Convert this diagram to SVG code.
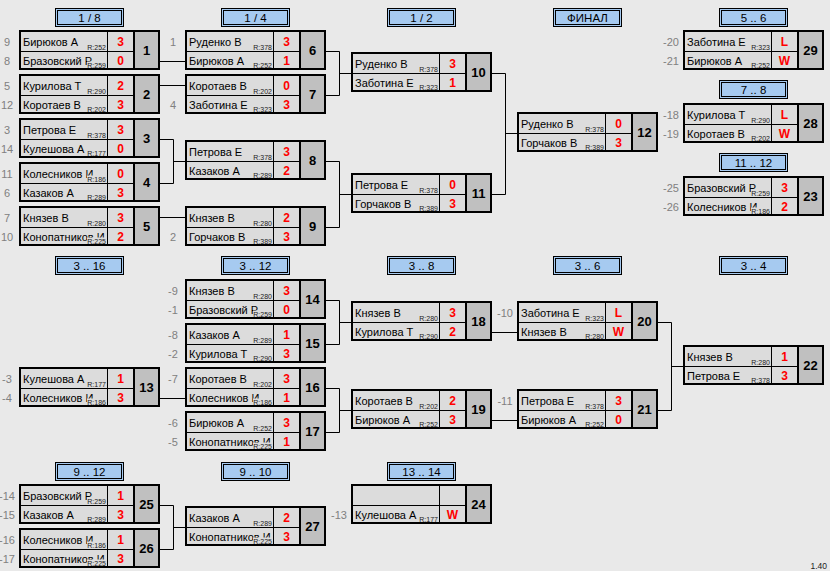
<svg xmlns="http://www.w3.org/2000/svg" xmlns:xlink="http://www.w3.org/1999/xlink" width="830" height="571" viewBox="0 0 830 571">
<style>
text{font-family:"Liberation Sans",Arial,sans-serif}
.nm{font-size:11px;fill:#000}
.rt{font-size:7px;fill:#222;text-anchor:end}
.sc{font-size:12px;font-weight:bold;fill:#ff0000;text-anchor:middle}
.no{font-size:13px;font-weight:bold;fill:#000;text-anchor:middle}
.sd{font-size:11px;fill:#808080;text-anchor:middle}
.ht{font-size:11.5px;fill:#000;text-anchor:middle}
.ver{font-size:8.5px;fill:#222;text-anchor:end}
#connectors path{fill:none;stroke:#000;stroke-width:1}
</style>
<defs>
<clipPath id="nc" clipPathUnits="userSpaceOnUse"><rect x="2" y="2" width="86" height="36"/></clipPath>
<g id="frame">
<rect x="2" y="2" width="137" height="36" fill="#dcdcdc"/>
<rect x="116" y="2" width="23" height="36" fill="#c0c0c0"/>
<path d="M88.5 2V38M2 21.5H114" stroke="#000" stroke-width="1" fill="none"/>
<path d="M115 2V38" stroke="#000" stroke-width="2" fill="none"/>
<rect x="1" y="1" width="139" height="38" fill="none" stroke="#000" stroke-width="2"/>
</g>
<g id="rbg" fill="#dcdcdc">
<rect x="68" y="13.5" width="20" height="7.5"/>
<rect x="68" y="31.5" width="20" height="6.5"/>
</g>
<g id="hdr">
<rect x="0.5" y="0.5" width="68" height="18" fill="#a6caf0" stroke="#000" stroke-width="1"/>
<rect x="2.5" y="2.5" width="64" height="14" fill="none" stroke="#000" stroke-width="1"/>
</g>
</defs>
<rect x="0" y="0" width="830" height="571" fill="#e9e9e9"/>

<g id="headers">
<g id="h-1-8" transform="translate(55,8)"><use href="#hdr"/><text class="ht" x="34.5" y="13.5">1 / 8</text></g>
<g id="h-1-4" transform="translate(221,8)"><use href="#hdr"/><text class="ht" x="34.5" y="13.5">1 / 4</text></g>
<g id="h-1-2" transform="translate(387,8)"><use href="#hdr"/><text class="ht" x="34.5" y="13.5">1 / 2</text></g>
<g id="h-final" transform="translate(553,8)"><use href="#hdr"/><text class="ht" x="34.5" y="13.5">ФИНАЛ</text></g>
<g id="h-5-6" transform="translate(719,8)"><use href="#hdr"/><text class="ht" x="34.5" y="13.5">5 .. 6</text></g>
<g id="h-7-8" transform="translate(719,80)"><use href="#hdr"/><text class="ht" x="34.5" y="13.5">7 .. 8</text></g>
<g id="h-11-12" transform="translate(719,153)"><use href="#hdr"/><text class="ht" x="34.5" y="13.5">11 .. 12</text></g>
<g id="h-3-16" transform="translate(55,256)"><use href="#hdr"/><text class="ht" x="34.5" y="13.5">3 .. 16</text></g>
<g id="h-3-12" transform="translate(221,256)"><use href="#hdr"/><text class="ht" x="34.5" y="13.5">3 .. 12</text></g>
<g id="h-3-8" transform="translate(387,256)"><use href="#hdr"/><text class="ht" x="34.5" y="13.5">3 .. 8</text></g>
<g id="h-3-6" transform="translate(553,256)"><use href="#hdr"/><text class="ht" x="34.5" y="13.5">3 .. 6</text></g>
<g id="h-3-4" transform="translate(719,256)"><use href="#hdr"/><text class="ht" x="34.5" y="13.5">3 .. 4</text></g>
<g id="h-9-12" transform="translate(55,462)"><use href="#hdr"/><text class="ht" x="34.5" y="13.5">9 .. 12</text></g>
<g id="h-9-10" transform="translate(221,462)"><use href="#hdr"/><text class="ht" x="34.5" y="13.5">9 .. 10</text></g>
<g id="h-13-14" transform="translate(387,462)"><use href="#hdr"/><text class="ht" x="34.5" y="13.5">13 .. 14</text></g>
</g>

<g id="connectors">
<path d="M160 61.5H185"/>
<path d="M160 85.5H185"/>
<path d="M160 139.5H173.5V183.5H160M173.5 161.5H185"/>
<path d="M160 217.5H185"/>
<path d="M326 51.5H339.5V95.5H326M339.5 73.5H351"/>
<path d="M326 161.5H339.5V227.5H326M339.5 194.5H351"/>
<path d="M492 73.5H505.5V194.5H492M505.5 133.5H517"/>
<path d="M160 398.5H185"/>
<path d="M326 300.5H339.5V344.5H326M339.5 322.5H351"/>
<path d="M326 388.5H339.5V432.5H326M339.5 410.5H351"/>
<path d="M492 332.5H517"/>
<path d="M492 420.5H517"/>
<path d="M658 322.5H671.5V410.5H658M671.5 366.5H683"/>
<path d="M160 505.5H173.5V549.5H160M173.5 527.5H185"/>
</g>

<g id="m1" transform="translate(19,30)"><use href="#frame"/><g clip-path="url(#nc)"><text class="nm" x="4" y="16">Бирюков А</text><text class="nm" x="4" y="35">Бразовский Р</text></g><use href="#rbg"/><text class="rt" x="87" y="19.5">R:252</text><text class="rt" x="87" y="37.8">R:259</text><text class="sc" x="101.5" y="16">3</text><text class="sc" x="101.5" y="35">0</text><text class="no" x="127.5" y="25">1</text><text class="sd" x="-12" y="16">9</text><text class="sd" x="-12" y="35">8</text></g>

<g id="m2" transform="translate(19,74)"><use href="#frame"/><g clip-path="url(#nc)"><text class="nm" x="4" y="16">Курилова Т</text><text class="nm" x="4" y="35">Коротаев В</text></g><use href="#rbg"/><text class="rt" x="87" y="19.5">R:290</text><text class="rt" x="87" y="37.8">R:202</text><text class="sc" x="101.5" y="16">2</text><text class="sc" x="101.5" y="35">3</text><text class="no" x="127.5" y="25">2</text><text class="sd" x="-12" y="16">5</text><text class="sd" x="-12" y="35">12</text></g>

<g id="m3" transform="translate(19,118)"><use href="#frame"/><g clip-path="url(#nc)"><text class="nm" x="4" y="16">Петрова Е</text><text class="nm" x="4" y="35">Кулешова А</text></g><use href="#rbg"/><text class="rt" x="87" y="19.5">R:378</text><text class="rt" x="87" y="37.8">R:177</text><text class="sc" x="101.5" y="16">3</text><text class="sc" x="101.5" y="35">0</text><text class="no" x="127.5" y="25">3</text><text class="sd" x="-12" y="16">3</text><text class="sd" x="-12" y="35">14</text></g>

<g id="m4" transform="translate(19,162)"><use href="#frame"/><g clip-path="url(#nc)"><text class="nm" x="4" y="16">Колесников И</text><text class="nm" x="4" y="35">Казаков А</text></g><use href="#rbg"/><text class="rt" x="87" y="19.5">R:186</text><text class="rt" x="87" y="37.8">R:289</text><text class="sc" x="101.5" y="16">0</text><text class="sc" x="101.5" y="35">3</text><text class="no" x="127.5" y="25">4</text><text class="sd" x="-12" y="16">11</text><text class="sd" x="-12" y="35">6</text></g>

<g id="m5" transform="translate(19,206)"><use href="#frame"/><g clip-path="url(#nc)"><text class="nm" x="4" y="16">Князев В</text><text class="nm" x="4" y="35">Конопатников И</text></g><use href="#rbg"/><text class="rt" x="87" y="19.5">R:280</text><text class="rt" x="87" y="37.8">R:225</text><text class="sc" x="101.5" y="16">3</text><text class="sc" x="101.5" y="35">2</text><text class="no" x="127.5" y="25">5</text><text class="sd" x="-12" y="16">7</text><text class="sd" x="-12" y="35">10</text></g>

<g id="m6" transform="translate(185,30)"><use href="#frame"/><g clip-path="url(#nc)"><text class="nm" x="4" y="16">Руденко В</text><text class="nm" x="4" y="35">Бирюков А</text></g><use href="#rbg"/><text class="rt" x="87" y="19.5">R:378</text><text class="rt" x="87" y="37.8">R:252</text><text class="sc" x="101.5" y="16">3</text><text class="sc" x="101.5" y="35">1</text><text class="no" x="127.5" y="25">6</text><text class="sd" x="-12" y="16">1</text></g>

<g id="m7" transform="translate(185,74)"><use href="#frame"/><g clip-path="url(#nc)"><text class="nm" x="4" y="16">Коротаев В</text><text class="nm" x="4" y="35">Заботина Е</text></g><use href="#rbg"/><text class="rt" x="87" y="19.5">R:202</text><text class="rt" x="87" y="37.8">R:323</text><text class="sc" x="101.5" y="16">0</text><text class="sc" x="101.5" y="35">3</text><text class="no" x="127.5" y="25">7</text><text class="sd" x="-12" y="35">4</text></g>

<g id="m8" transform="translate(185,140)"><use href="#frame"/><g clip-path="url(#nc)"><text class="nm" x="4" y="16">Петрова Е</text><text class="nm" x="4" y="35">Казаков А</text></g><use href="#rbg"/><text class="rt" x="87" y="19.5">R:378</text><text class="rt" x="87" y="37.8">R:289</text><text class="sc" x="101.5" y="16">3</text><text class="sc" x="101.5" y="35">2</text><text class="no" x="127.5" y="25">8</text></g>

<g id="m9" transform="translate(185,206)"><use href="#frame"/><g clip-path="url(#nc)"><text class="nm" x="4" y="16">Князев В</text><text class="nm" x="4" y="35">Горчаков В</text></g><use href="#rbg"/><text class="rt" x="87" y="19.5">R:280</text><text class="rt" x="87" y="37.8">R:389</text><text class="sc" x="101.5" y="16">2</text><text class="sc" x="101.5" y="35">3</text><text class="no" x="127.5" y="25">9</text><text class="sd" x="-12" y="35">2</text></g>

<g id="m10" transform="translate(351,52)"><use href="#frame"/><g clip-path="url(#nc)"><text class="nm" x="4" y="16">Руденко В</text><text class="nm" x="4" y="35">Заботина Е</text></g><use href="#rbg"/><text class="rt" x="87" y="19.5">R:378</text><text class="rt" x="87" y="37.8">R:323</text><text class="sc" x="101.5" y="16">3</text><text class="sc" x="101.5" y="35">1</text><text class="no" x="127.5" y="25">10</text></g>

<g id="m11" transform="translate(351,173)"><use href="#frame"/><g clip-path="url(#nc)"><text class="nm" x="4" y="16">Петрова Е</text><text class="nm" x="4" y="35">Горчаков В</text></g><use href="#rbg"/><text class="rt" x="87" y="19.5">R:378</text><text class="rt" x="87" y="37.8">R:389</text><text class="sc" x="101.5" y="16">0</text><text class="sc" x="101.5" y="35">3</text><text class="no" x="127.5" y="25">11</text></g>

<g id="m12" transform="translate(517,112)"><use href="#frame"/><g clip-path="url(#nc)"><text class="nm" x="4" y="16">Руденко В</text><text class="nm" x="4" y="35">Горчаков В</text></g><use href="#rbg"/><text class="rt" x="87" y="19.5">R:378</text><text class="rt" x="87" y="37.8">R:389</text><text class="sc" x="101.5" y="16">0</text><text class="sc" x="101.5" y="35">3</text><text class="no" x="127.5" y="25">12</text></g>

<g id="m29" transform="translate(683,30)"><use href="#frame"/><g clip-path="url(#nc)"><text class="nm" x="4" y="16">Заботина Е</text><text class="nm" x="4" y="35">Бирюков А</text></g><use href="#rbg"/><text class="rt" x="87" y="19.5">R:323</text><text class="rt" x="87" y="37.8">R:252</text><text class="sc" x="101.5" y="16">L</text><text class="sc" x="101.5" y="35">W</text><text class="no" x="127.5" y="25">29</text><text class="sd" x="-12" y="16">-20</text><text class="sd" x="-12" y="35">-21</text></g>

<g id="m28" transform="translate(683,103)"><use href="#frame"/><g clip-path="url(#nc)"><text class="nm" x="4" y="16">Курилова Т</text><text class="nm" x="4" y="35">Коротаев В</text></g><use href="#rbg"/><text class="rt" x="87" y="19.5">R:290</text><text class="rt" x="87" y="37.8">R:202</text><text class="sc" x="101.5" y="16">L</text><text class="sc" x="101.5" y="35">W</text><text class="no" x="127.5" y="25">28</text><text class="sd" x="-12" y="16">-18</text><text class="sd" x="-12" y="35">-19</text></g>

<g id="m23" transform="translate(683,176)"><use href="#frame"/><g clip-path="url(#nc)"><text class="nm" x="4" y="16">Бразовский Р</text><text class="nm" x="4" y="35">Колесников И</text></g><use href="#rbg"/><text class="rt" x="87" y="19.5">R:259</text><text class="rt" x="87" y="37.8">R:186</text><text class="sc" x="101.5" y="16">3</text><text class="sc" x="101.5" y="35">2</text><text class="no" x="127.5" y="25">23</text><text class="sd" x="-12" y="16">-25</text><text class="sd" x="-12" y="35">-26</text></g>

<g id="m13" transform="translate(19,367)"><use href="#frame"/><g clip-path="url(#nc)"><text class="nm" x="4" y="16">Кулешова А</text><text class="nm" x="4" y="35">Колесников И</text></g><use href="#rbg"/><text class="rt" x="87" y="19.5">R:177</text><text class="rt" x="87" y="37.8">R:186</text><text class="sc" x="101.5" y="16">1</text><text class="sc" x="101.5" y="35">3</text><text class="no" x="127.5" y="25">13</text><text class="sd" x="-12" y="16">-3</text><text class="sd" x="-12" y="35">-4</text></g>

<g id="m14" transform="translate(185,279)"><use href="#frame"/><g clip-path="url(#nc)"><text class="nm" x="4" y="16">Князев В</text><text class="nm" x="4" y="35">Бразовский Р</text></g><use href="#rbg"/><text class="rt" x="87" y="19.5">R:280</text><text class="rt" x="87" y="37.8">R:259</text><text class="sc" x="101.5" y="16">3</text><text class="sc" x="101.5" y="35">0</text><text class="no" x="127.5" y="25">14</text><text class="sd" x="-12" y="16">-9</text><text class="sd" x="-12" y="35">-1</text></g>

<g id="m15" transform="translate(185,323)"><use href="#frame"/><g clip-path="url(#nc)"><text class="nm" x="4" y="16">Казаков А</text><text class="nm" x="4" y="35">Курилова Т</text></g><use href="#rbg"/><text class="rt" x="87" y="19.5">R:289</text><text class="rt" x="87" y="37.8">R:290</text><text class="sc" x="101.5" y="16">1</text><text class="sc" x="101.5" y="35">3</text><text class="no" x="127.5" y="25">15</text><text class="sd" x="-12" y="16">-8</text><text class="sd" x="-12" y="35">-2</text></g>

<g id="m16" transform="translate(185,367)"><use href="#frame"/><g clip-path="url(#nc)"><text class="nm" x="4" y="16">Коротаев В</text><text class="nm" x="4" y="35">Колесников И</text></g><use href="#rbg"/><text class="rt" x="87" y="19.5">R:202</text><text class="rt" x="87" y="37.8">R:186</text><text class="sc" x="101.5" y="16">3</text><text class="sc" x="101.5" y="35">1</text><text class="no" x="127.5" y="25">16</text><text class="sd" x="-12" y="16">-7</text></g>

<g id="m17" transform="translate(185,411)"><use href="#frame"/><g clip-path="url(#nc)"><text class="nm" x="4" y="16">Бирюков А</text><text class="nm" x="4" y="35">Конопатников И</text></g><use href="#rbg"/><text class="rt" x="87" y="19.5">R:252</text><text class="rt" x="87" y="37.8">R:225</text><text class="sc" x="101.5" y="16">3</text><text class="sc" x="101.5" y="35">1</text><text class="no" x="127.5" y="25">17</text><text class="sd" x="-12" y="16">-6</text><text class="sd" x="-12" y="35">-5</text></g>

<g id="m18" transform="translate(351,301)"><use href="#frame"/><g clip-path="url(#nc)"><text class="nm" x="4" y="16">Князев В</text><text class="nm" x="4" y="35">Курилова Т</text></g><use href="#rbg"/><text class="rt" x="87" y="19.5">R:280</text><text class="rt" x="87" y="37.8">R:290</text><text class="sc" x="101.5" y="16">3</text><text class="sc" x="101.5" y="35">2</text><text class="no" x="127.5" y="25">18</text></g>

<g id="m19" transform="translate(351,389)"><use href="#frame"/><g clip-path="url(#nc)"><text class="nm" x="4" y="16">Коротаев В</text><text class="nm" x="4" y="35">Бирюков А</text></g><use href="#rbg"/><text class="rt" x="87" y="19.5">R:202</text><text class="rt" x="87" y="37.8">R:252</text><text class="sc" x="101.5" y="16">2</text><text class="sc" x="101.5" y="35">3</text><text class="no" x="127.5" y="25">19</text></g>

<g id="m20" transform="translate(517,301)"><use href="#frame"/><g clip-path="url(#nc)"><text class="nm" x="4" y="16">Заботина Е</text><text class="nm" x="4" y="35">Князев В</text></g><use href="#rbg"/><text class="rt" x="87" y="19.5">R:323</text><text class="rt" x="87" y="37.8">R:280</text><text class="sc" x="101.5" y="16">L</text><text class="sc" x="101.5" y="35">W</text><text class="no" x="127.5" y="25">20</text><text class="sd" x="-12" y="16">-10</text></g>

<g id="m21" transform="translate(517,389)"><use href="#frame"/><g clip-path="url(#nc)"><text class="nm" x="4" y="16">Петрова Е</text><text class="nm" x="4" y="35">Бирюков А</text></g><use href="#rbg"/><text class="rt" x="87" y="19.5">R:378</text><text class="rt" x="87" y="37.8">R:252</text><text class="sc" x="101.5" y="16">3</text><text class="sc" x="101.5" y="35">0</text><text class="no" x="127.5" y="25">21</text><text class="sd" x="-12" y="16">-11</text></g>

<g id="m22" transform="translate(683,345)"><use href="#frame"/><g clip-path="url(#nc)"><text class="nm" x="4" y="16">Князев В</text><text class="nm" x="4" y="35">Петрова Е</text></g><use href="#rbg"/><text class="rt" x="87" y="19.5">R:280</text><text class="rt" x="87" y="37.8">R:378</text><text class="sc" x="101.5" y="16">1</text><text class="sc" x="101.5" y="35">3</text><text class="no" x="127.5" y="25">22</text></g>

<g id="m25" transform="translate(19,484)"><use href="#frame"/><g clip-path="url(#nc)"><text class="nm" x="4" y="16">Бразовский Р</text><text class="nm" x="4" y="35">Казаков А</text></g><use href="#rbg"/><text class="rt" x="87" y="19.5">R:259</text><text class="rt" x="87" y="37.8">R:289</text><text class="sc" x="101.5" y="16">1</text><text class="sc" x="101.5" y="35">3</text><text class="no" x="127.5" y="25">25</text><text class="sd" x="-12" y="16">-14</text><text class="sd" x="-12" y="35">-15</text></g>

<g id="m26" transform="translate(19,528)"><use href="#frame"/><g clip-path="url(#nc)"><text class="nm" x="4" y="16">Колесников И</text><text class="nm" x="4" y="35">Конопатников И</text></g><use href="#rbg"/><text class="rt" x="87" y="19.5">R:186</text><text class="rt" x="87" y="37.8">R:225</text><text class="sc" x="101.5" y="16">1</text><text class="sc" x="101.5" y="35">3</text><text class="no" x="127.5" y="25">26</text><text class="sd" x="-12" y="16">-16</text><text class="sd" x="-12" y="35">-17</text></g>

<g id="m27" transform="translate(185,506)"><use href="#frame"/><g clip-path="url(#nc)"><text class="nm" x="4" y="16">Казаков А</text><text class="nm" x="4" y="35">Конопатников И</text></g><use href="#rbg"/><text class="rt" x="87" y="19.5">R:289</text><text class="rt" x="87" y="37.8">R:225</text><text class="sc" x="101.5" y="16">2</text><text class="sc" x="101.5" y="35">3</text><text class="no" x="127.5" y="25">27</text></g>

<g id="m24" transform="translate(351,484)"><use href="#frame"/><g clip-path="url(#nc)"><text class="nm" x="4" y="35">Кулешова А</text></g><use href="#rbg"/><text class="rt" x="87" y="37.8">R:177</text><text class="sc" x="101.5" y="35">W</text><text class="no" x="127.5" y="25">24</text><text class="sd" x="-12" y="35">-13</text></g>

<text class="ver" x="827" y="569">1.40</text>
</svg>
